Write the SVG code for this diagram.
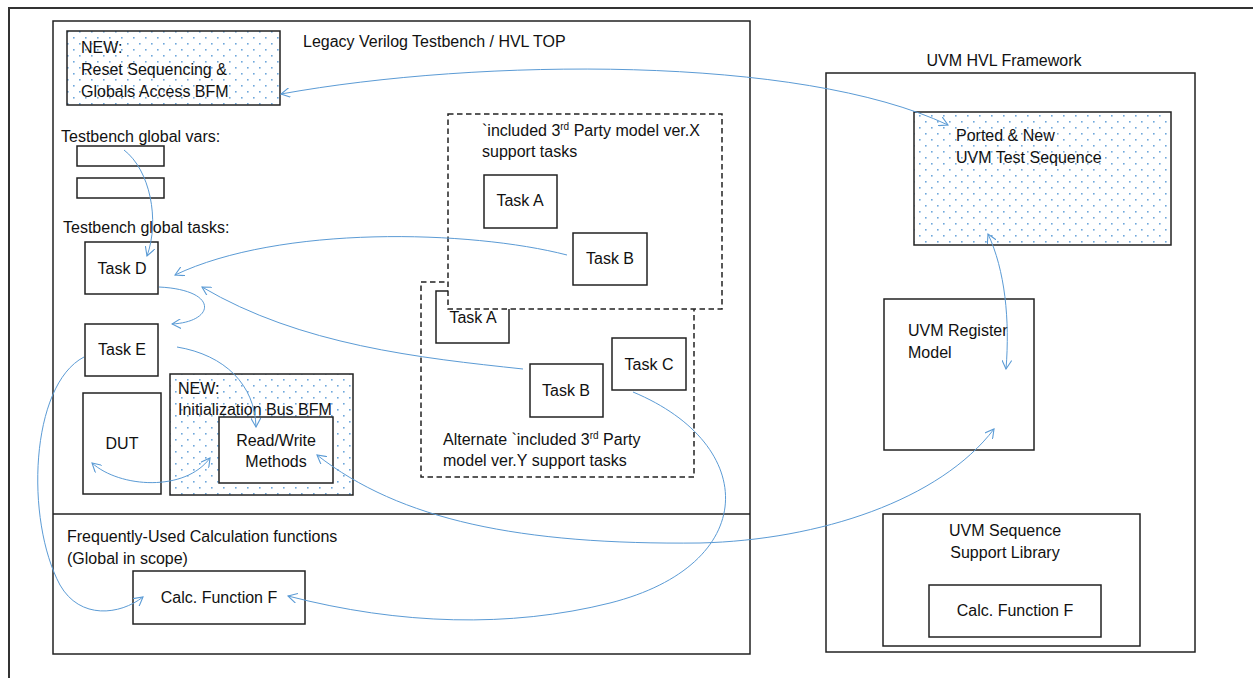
<svg xmlns="http://www.w3.org/2000/svg" width="1253" height="678" viewBox="0 0 1253 678">
<defs>
<pattern id="dots" x="0" y="0" width="12" height="12" patternUnits="userSpaceOnUse">
<rect width="12" height="12" fill="#ffffff"/>
<rect x="1" y="1" width="1.6" height="1.6" fill="#6fa8dc"/>
<rect x="7" y="7" width="1.6" height="1.6" fill="#6fa8dc"/>
</pattern>
<marker id="arr" viewBox="0 0 10 10" refX="9" refY="5" markerWidth="10" markerHeight="10" markerUnits="userSpaceOnUse" orient="auto-start-reverse">
<path d="M0,0 L9,5 L0,10" fill="none" stroke="#5b9bd5" stroke-width="1.1"/>
</marker>
<style>
.box{fill:#fff;stroke:#222;stroke-width:1.5}
.dot{fill:url(#dots);stroke:#222;stroke-width:1.5}
.dash{fill:#fff;stroke:#222;stroke-width:1.5;stroke-dasharray:5.5,3.5}
.t{font-family:"Liberation Sans",Arial,sans-serif;font-size:16px;fill:#111}
.m{text-anchor:middle}
.c{fill:none;stroke:#5b9bd5;stroke-width:1}
</style>
</defs>
<rect x="0" y="0" width="1253" height="678" fill="#fff"/>
<rect x="9" y="8" width="1270" height="700" fill="none" stroke="#333" stroke-width="2"/>

<g id="legacy">
<rect class="box" x="53" y="21" width="697" height="633"/>
<line x1="53" y1="514" x2="750" y2="514" stroke="#222" stroke-width="1.5"/>
<text class="t" x="303" y="47">Legacy Verilog Testbench / HVL TOP</text>
<text class="t" x="67" y="542">Frequently-Used Calculation functions</text>
<text class="t" x="67" y="564">(Global in scope)</text>
</g>

<g id="reset-bfm">
<rect class="dot" x="67" y="31" width="213" height="74"/>
<text class="t" x="81" y="53">NEW:</text>
<text class="t" x="81" y="75">Reset Sequencing &amp;</text>
<text class="t" x="81" y="97">Globals Access BFM</text>
</g>

<g id="global-vars">
<text class="t" x="61" y="142">Testbench global vars:</text>
<rect class="box" x="77" y="146" width="87" height="20"/>
<rect class="box" x="77" y="178" width="87" height="20"/>
</g>

<text class="t" x="63" y="233">Testbench global tasks:</text>

<g id="task-d">
<rect class="box" x="85" y="242" width="73" height="52"/>
<text class="t m" x="122" y="274">Task D</text>
</g>
<g id="task-e">
<rect class="box" x="85" y="324" width="73" height="52"/>
<text class="t m" x="122" y="355">Task E</text>
</g>
<g id="dut">
<rect class="box" x="83" y="393" width="78" height="101"/>
<text class="t m" x="122" y="449">DUT</text>
</g>
<g id="init-bfm">
<rect class="dot" x="170" y="374" width="183" height="121"/>
<text class="t" x="178" y="394">NEW:</text>
<text class="t" x="178" y="415">Initialization Bus BFM</text>
</g>
<g id="rw-methods">
<rect class="box" x="219" y="417" width="114" height="66"/>
<text class="t m" x="276" y="446">Read/Write</text>
<text class="t m" x="276" y="467">Methods</text>
</g>

<g id="ver-y">
<rect class="dash" x="421" y="282" width="273" height="195"/>
<rect class="box" x="436" y="291" width="73" height="52"/>
<text class="t m" x="473" y="323">Task A</text>
<rect class="box" x="530" y="364" width="73" height="53"/>
<text class="t m" x="566" y="396">Task B</text>
<rect class="box" x="612" y="338" width="74" height="52"/>
<text class="t m" x="649" y="370">Task C</text>
<text class="t" x="443" y="445">Alternate `included 3<tspan font-size="10" dy="-6">rd</tspan><tspan dy="6"> Party</tspan></text>
<text class="t" x="443" y="466">model ver.Y support tasks</text>
</g>

<g id="ver-x">
<rect class="dash" x="448" y="114" width="274" height="195"/>
<text class="t" x="482" y="136">`included 3<tspan font-size="10" dy="-6">rd</tspan><tspan dy="6"> Party model ver.X</tspan></text>
<text class="t" x="482" y="157">support tasks</text>
<rect class="box" x="484" y="175" width="73" height="53"/>
<text class="t m" x="520" y="206">Task A</text>
<rect class="box" x="573" y="233" width="74" height="52"/>
<text class="t m" x="610" y="264">Task B</text>
</g>

<g id="calc-f-legacy">
<rect class="box" x="133" y="571" width="172" height="53"/>
<text class="t m" x="219" y="603">Calc. Function F</text>
</g>

<g id="uvm">
<text class="t m" x="1004" y="66">UVM HVL Framework</text>
<rect class="box" x="826" y="73" width="369" height="579"/>
</g>
<g id="ported-seq">
<rect class="dot" x="914" y="112" width="257" height="133"/>
<text class="t" x="956" y="141">Ported &amp; New</text>
<text class="t" x="956" y="163">UVM Test Sequence</text>
</g>
<g id="reg-model">
<rect class="box" x="884" y="299" width="150" height="151"/>
<text class="t" x="908" y="336">UVM Register</text>
<text class="t" x="908" y="358">Model</text>
</g>
<g id="seq-lib">
<rect class="box" x="883" y="514" width="257" height="132"/>
<text class="t m" x="1005" y="536">UVM Sequence</text>
<text class="t m" x="1005" y="558">Support Library</text>
</g>
<g id="calc-f-uvm">
<rect class="box" x="929" y="585" width="172" height="52"/>
<text class="t m" x="1015" y="616">Calc. Function F</text>
</g>

<g id="connectors">
<path class="c" marker-start="url(#arr)" marker-end="url(#arr)" d="M281,94 C480,58 800,55 948,125"/>
<path class="c" marker-end="url(#arr)" d="M124,150 C150,170 160,220 147,256"/>
<path class="c" marker-end="url(#arr)" d="M567,255 C470,230 280,225 175,275"/>
<path class="c" marker-end="url(#arr)" d="M159,287 C220,290 215,322 172,324"/>
<path class="c" marker-end="url(#arr)" d="M523,369 C420,358 300,345 202,287"/>
<path class="c" marker-end="url(#arr)" d="M177,347 C225,355 255,385 256,427"/>
<path class="c" marker-start="url(#arr)" marker-end="url(#arr)" d="M92,463 C120,488 185,492 210,458"/>
<path class="c" marker-end="url(#arr)" d="M84,357 C30,385 25,520 60,585 C80,620 120,615 143,597"/>
<path class="c" marker-end="url(#arr)" d="M633,392 C760,445 760,565 610,603 C510,628 400,625 288,596"/>
<path class="c" marker-start="url(#arr)" marker-end="url(#arr)" d="M317,455 C400,520 520,545 700,543 C820,540 940,500 994,429"/>
<path class="c" marker-start="url(#arr)" marker-end="url(#arr)" d="M988,234 C1005,270 1010,320 1006,369"/>
</g>
</svg>
